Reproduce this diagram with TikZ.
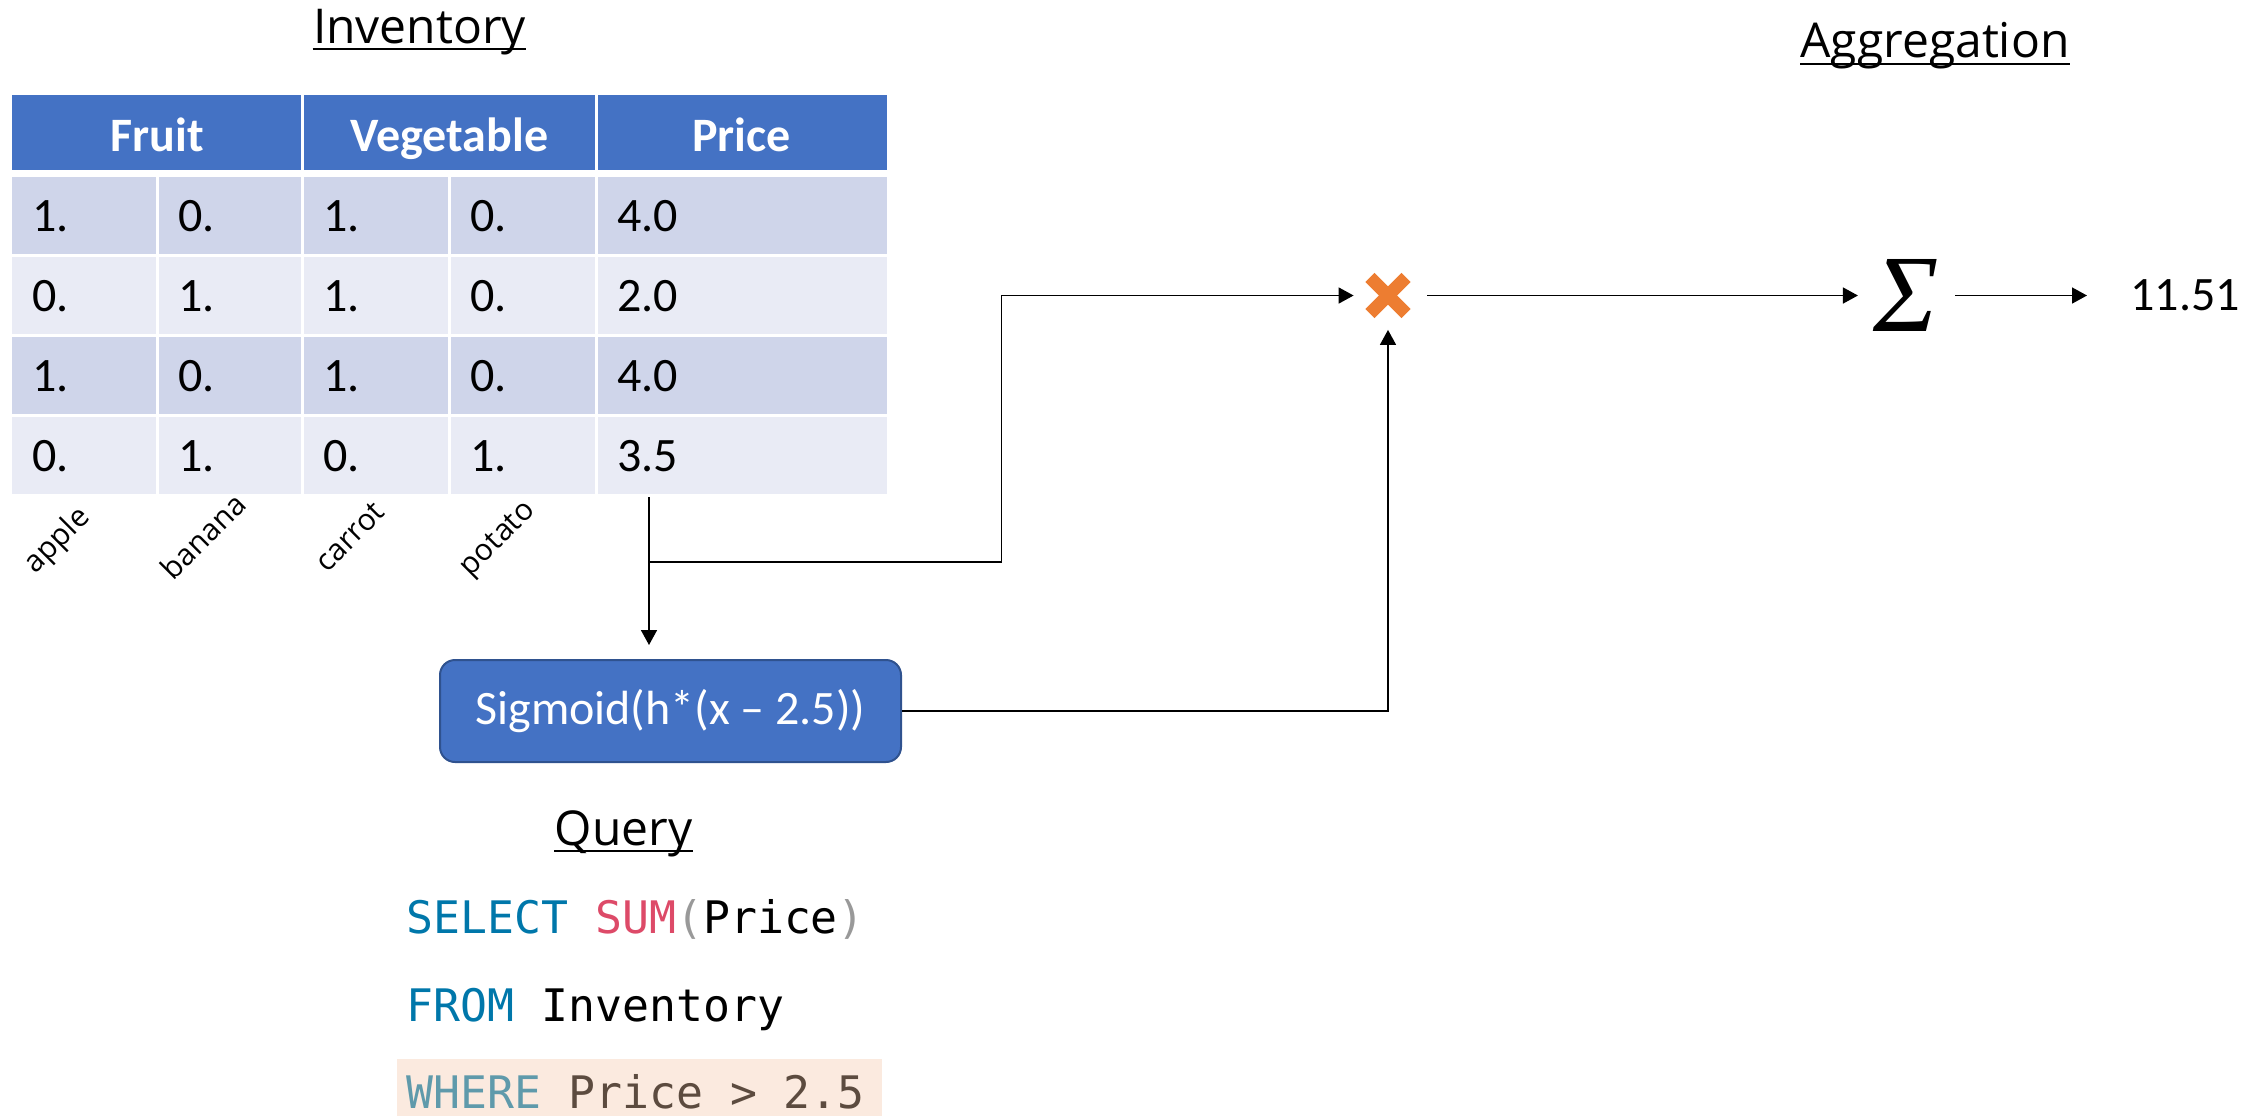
\documentclass[tikz,border=0pt]{standalone}
\usepackage{fontspec}
\setmainfont{Carlito}
\setmonofont{DejaVu Sans Mono}
\newfontfamily\titlefont{Open Sans}
\newfontfamily\sigmafont{Liberation Serif}
\usetikzlibrary{arrows.meta,calc}
\definecolor{hdrblue}{HTML}{4472C4}
\definecolor{rowdark}{HTML}{CFD5EA}
\definecolor{rowlight}{HTML}{E9EBF5}
\definecolor{boxedge}{HTML}{2F528F}
\definecolor{mulorange}{HTML}{ED7D31}
\definecolor{sqlkw}{HTML}{0077AA}
\definecolor{sqlfn}{HTML}{DD4A68}
\definecolor{sqlpunct}{HTML}{999999}
\definecolor{hlbg}{HTML}{FBEADF}
\definecolor{hlkw}{HTML}{5F9AAB}
\definecolor{hltext}{HTML}{5C4B3F}

\begin{document}
\begin{tikzpicture}[x=0.5pt,y=-0.5pt,
  title/.style={font=\titlefont\fontsize{24}{28}\selectfont, inner sep=0, anchor=base},
  hdr/.style={font=\bfseries\fontsize{24}{28}\selectfont, text=white, inner sep=0, anchor=base},
  val/.style={font=\fontsize{24}{28}\selectfont, inner sep=0, anchor=base west},
  lbl/.style={font=\titlefont\fontsize{15}{17}\selectfont, rotate=45, inner sep=0},
  sql/.style={font=\ttfamily\fontsize{22.4}{26}\selectfont, inner sep=0, anchor=base west},
  link/.style={line width=0.8pt, -{Triangle[length=7.5pt,width=8pt]}},
  uline/.style={line width=1.4pt},
  funcbox/.style={draw=boxedge, line width=1pt, fill=hdrblue, rounded corners=7.5pt,
    minimum width=230.5pt, minimum height=51pt, inner sep=0, text=white,
    font=\fontsize{24}{28}\selectfont},
  mulsign/.style={minimum size=23pt, inner sep=0, path picture={
    \fill[mulorange, shift={(path picture bounding box.center)}]
      (11.31pt,6.79pt) -- (6.79pt,11.31pt) -- (-11.31pt,-6.79pt) -- (-6.79pt,-11.31pt) -- cycle;
    \fill[mulorange, shift={(path picture bounding box.center)}]
      (-11.31pt,6.79pt) -- (-6.79pt,11.31pt) -- (11.31pt,-6.79pt) -- (6.79pt,-11.31pt) -- cycle;
  }},
]
\useasboundingbox (0,0) rectangle (2260,1116);

% ---- titles ----
\node[title] (invtitle) at (419.5,43) {Inventory};
\draw[uline] ([yshift=-3pt]invtitle.base west) -- ([yshift=-3pt]invtitle.base east);
\node[title] (aggtitle) at (1935,57) {Aggregation};
\draw[uline] ([yshift=-3.5pt]aggtitle.base west) -- ([yshift=-3.5pt]aggtitle.base east);
\node[title] (qtitle) at (623.5,845) {Query};
\draw[uline] ([yshift=-3pt]qtitle.base west) -- ([yshift=-3pt]qtitle.base east);

% ---- inventory table ----
\fill[hdrblue] (11.5,95) rectangle (887,170);
\foreach \t/\c in {177/rowdark,257/rowlight,337/rowdark,417/rowlight}
  \fill[\c] (11.5,\t) rectangle (887,\t+77);
\foreach \x in {302.5,596}
  \draw[white, line width=1.5pt] (\x,95) -- (\x,170);
\foreach \x in {157,302.5,449.5,596}
  \draw[white, line width=1.5pt] (\x,177) -- (\x,494);

\node[hdr] (hfruit) at (157,151) {Fruit};
\node[hdr] (hveg) at (449.5,151) {Vegetable};
\node[hdr] (hprice) at (741.5,151) {Price};

\foreach \r/\yb/\a/\b/\c/\d/\p in {
    1/231.5/1./0./1./0./4.0,
    2/311.5/0./1./1./0./2.0,
    3/391.5/1./0./1./0./4.0,
    4/471.5/0./1./0./1./3.5}{
  \node[val] (a\r) at (32,\yb) {\a};
  \node[val] (b\r) at (178,\yb) {\b};
  \node[val] (c\r) at (323,\yb) {\c};
  \node[val] (d\r) at (470,\yb) {\d};
  \node[val] (p\r) at (617,\yb) {\p};
}

\node[lbl] (lapple) at (58,541) {apple};
\node[lbl] (lbanana) at (203,536) {banana};
\node[lbl] (lcarrot) at (350,537) {carrot};
\node[lbl] (lpotato) at (499,540) {potato};

% ---- operators ----
\node[funcbox] (sig) at (670.5,711) {Sigmoid(h*(x – 2.5))};
\node[mulsign] (mul) at (1388,295.5) {};
\node[inner sep=0, font=\sigmafont\itshape\fontsize{55}{60}\selectfont] (sum) at (1906,295) {Σ};
\node[inner sep=0, anchor=west, font=\fontsize{24}{28}\selectfont] (res) at (2130,295.5) {11.51};

% ---- connectors ----
\coordinate (src) at (649,497);
\coordinate (fork) at (649,562);
\coordinate (bend) at (1001.5,562);
\draw[link, shorten >=7pt] (src) -- (src |- sig.north);
\draw[link, shorten >=5.5pt] (fork) -- (bend) |- (mul.west);
\draw[link, shorten >=5.5pt] (sig.east) -| (mul.south);
\draw[link, shorten <=8pt, shorten >=7.5pt] (mul.east) -- (mul.east -| sum.west);
\draw[link, shorten <=8pt, shorten >=21.5pt] (sum.east |- mul.east) -- (mul.east -| res.west);

% ---- query text ----
\fill[hlbg] (397,1059) rectangle (882,1116);
\node[sql] (q1) at (406,933) {\color{sqlkw}SELECT \color{sqlfn}SUM\color{sqlpunct}(\color{black}Price\color{sqlpunct})};
\node[sql] (q2) at (406,1021) {\color{sqlkw}FROM \color{black}Inventory};
\node[sql] (q3) at (406,1108) {\color{hlkw}WHERE \color{hltext}Price > 2.5};
\end{tikzpicture}
\end{document}
